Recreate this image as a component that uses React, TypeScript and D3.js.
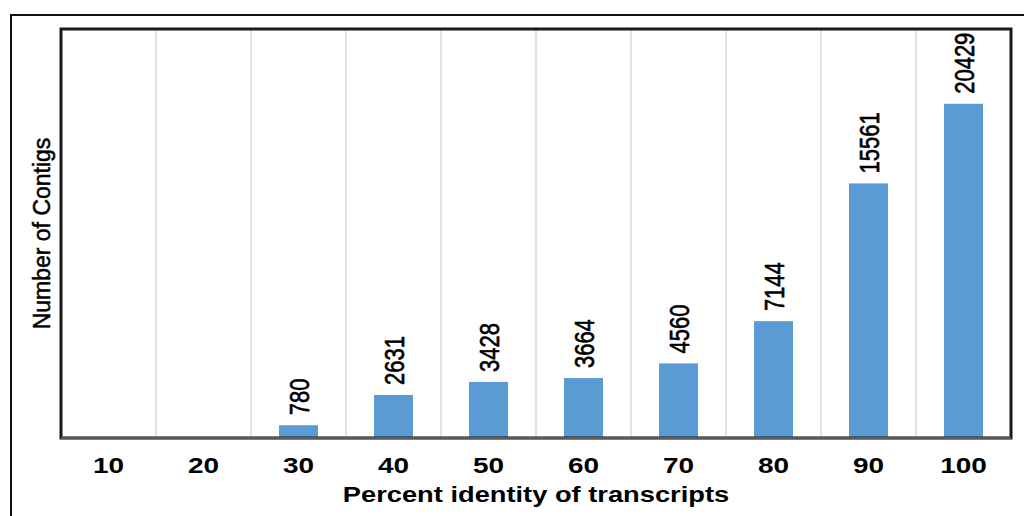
import React from 'react';
import * as d3 from 'd3';

const categories = ['10', '20', '30', '40', '50', '60', '70', '80', '90', '100'];
const contigCounts = [0, 0, 780, 2631, 3428, 3664, 4560, 7144, 15561, 20429];

const xTitle = 'Percent identity of transcripts';
const yTitle = 'Number of Contigs';

const W = 1024;
const H = 516;
const margin = { top: 29, right: 13, bottom: 78, left: 61 };
const SX = 1.27; // text in the picture is stretched horizontally
const FONT = 'Liberation Sans, Arial, sans-serif';

const App = () => {
  const x = d3.scaleBand<string>()
    .domain(categories)
    .range([margin.left, W - margin.right])
    .paddingInner(0.59)
    .paddingOuter(0.295);

  const y = d3.scaleLinear()
    .domain([0, 25000])
    .range([H - margin.bottom, margin.top]);

  const step = x.step();
  const bottom = y(0);
  const cx = (c: string) => (x(c) as number) + x.bandwidth() / 2;

  return (
    <svg width={W} height={H} style={{ position: 'absolute', left: 0, top: 0, background: '#fff' }}>
      {/* outer frame, cut off on the right and bottom */}
      <rect x={11} y={15} width={1030} height={530} fill="none" stroke="#111" strokeWidth={2} />

      {/* gridlines between categories */}
      {categories.slice(1).map(c => (
        <line key={'g' + c} x1={cx(c) - step / 2} x2={cx(c) - step / 2} y1={margin.top} y2={bottom}
          stroke="#d9d9d9" strokeWidth={1.5} />
      ))}

      {/* bars */}
      {categories.map((c, i) => (
        contigCounts[i] > 0 && (
          <rect key={'b' + c} x={x(c)} y={y(contigCounts[i])} width={x.bandwidth()}
            height={bottom - y(contigCounts[i])} fill="#5b9bd5" />
        )
      ))}

      {/* value labels */}
      {categories.map((c, i) => (
        contigCounts[i] > 0 && (
          <g key={'l' + c} transform={`translate(${cx(c)},${y(contigCounts[i]) - 10}) scale(${SX},1) rotate(-90)`}>
            <text dy="0.36em" fontFamily={FONT} fontSize={22} fill="#000" stroke="#000" strokeWidth={0.5}>
              {contigCounts[i]}
            </text>
          </g>
        )
      ))}

      {/* plot frame */}
      <rect x={margin.left} y={margin.top} width={W - margin.right - margin.left} height={bottom - margin.top}
        fill="none" stroke="#1a1a1a" strokeWidth={3} />
      <line x1={margin.left} x2={W - margin.right} y1={bottom} y2={bottom} stroke="#595959" strokeWidth={2.5} />

      {/* category ticks */}
      {categories.map(c => (
        <g key={'t' + c} transform={`translate(${cx(c)},473) scale(${SX},1)`}>
          <text textAnchor="middle" fontFamily={FONT} fontSize={22} fontWeight="bold" fill="#000">{c}</text>
        </g>
      ))}

      {/* axis titles */}
      <g transform={`translate(${(margin.left + W - margin.right) / 2},502) scale(1.24,1)`}>
        <text textAnchor="middle" fontFamily={FONT} fontSize={22} fontWeight="bold" fill="#000">{xTitle}</text>
      </g>
      <g transform={`translate(50,${(margin.top + bottom) / 2}) scale(1.05,1) rotate(-90)`}>
        <text textAnchor="middle" fontFamily={FONT} fontSize={23} fill="#000" stroke="#000" strokeWidth={0.5}>
          {yTitle}
        </text>
      </g>
    </svg>
  );
};

export default App;
